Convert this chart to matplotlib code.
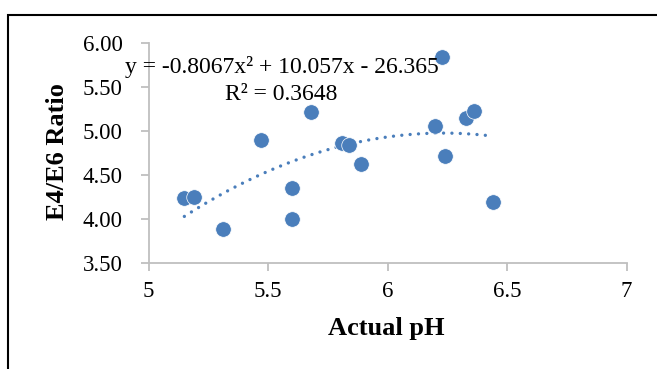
import numpy as np
import matplotlib
matplotlib.use("Agg")
import matplotlib.pyplot as plt
from matplotlib.patches import Rectangle

# Data
actual_ph = [5.15, 5.19, 5.31, 5.47, 5.60, 5.60, 5.68, 5.81, 5.84, 5.89,
             6.20, 6.23, 6.24, 6.33, 6.36, 6.44]
e4e6_ratio = [4.24, 4.25, 3.89, 4.90, 4.36, 4.00, 5.22, 4.87, 4.85, 4.63,
              5.06, 5.84, 4.72, 5.15, 5.23, 4.20]
trend_coeffs = [-0.8067, 10.057, -26.365]
r_squared = 0.3648
x_ticks = [5, 5.5, 6, 6.5, 7]
x_tick_labels = ["5", "5.5", "6", "6.5", "7"]
y_ticks = [3.5, 4.0, 4.5, 5.0, 5.5, 6.0]
y_tick_labels = ["3.50", "4.00", "4.50", "5.00", "5.50", "6.00"]

plt.rcParams['font.family'] = ['Liberation Serif', 'DejaVu Serif']

W, H = 657, 369
fig = plt.figure(figsize=(W / 100, H / 100), dpi=100)
fig.patch.set_facecolor('white')

# Outer frame
fig.patches.append(Rectangle((7.5 / W, -0.05), 1.0, 1 - 14.5 / H + 0.05,
                             transform=fig.transFigure, fill=False,
                             edgecolor='black', linewidth=1.5))

left, right = 148.5 / W, 626.5 / W
bottom, top = 1 - 263.3 / H, 1 - 43.3 / H
ax = fig.add_axes([left, bottom, right - left, top - bottom])

color = '#4a7ebb'
ax.scatter(actual_ph, e4e6_ratio, s=125, color=color, edgecolors='white',
           linewidths=0.5, zorder=3)

xs = np.linspace(min(actual_ph), max(actual_ph), 200)
ys = np.polyval(trend_coeffs, xs)
ax.plot(xs, ys, color=color, linewidth=2.4, linestyle=(0, (0.01, 2.5)),
        dash_capstyle='round', zorder=2)

ax.set_xlim(5, 7)
ax.set_ylim(3.5, 6.0)
ax.set_xticks(x_ticks)
ax.set_xticklabels(x_tick_labels)
ax.set_yticks(y_ticks)
ax.set_yticklabels(y_tick_labels)

for s in ['top', 'right']:
    ax.spines[s].set_visible(False)
for s in ['left', 'bottom']:
    ax.spines[s].set_color('#bfbfbf')
    ax.spines[s].set_linewidth(1.3)
ax.tick_params(axis='both', colors='#bfbfbf', length=5.5, width=1.3,
               labelcolor='black', labelsize=16.5)
ax.tick_params(axis='x', pad=7)
ax.tick_params(axis='y', pad=13)

ax.set_xlabel('Actual pH', fontsize=19, fontweight='bold', va='center')
ax.set_ylabel('E4/E6 Ratio', fontsize=19, fontweight='bold', va='center')
ax.xaxis.set_label_coords((386 - 148.5) / 478, (263.3 - 329) / 220)
ax.yaxis.set_label_coords((58 - 148.5) / 478, (263.3 - 152) / 220)

a, b, c = trend_coeffs
eq = f"y = {a:.4f}x² + {b:.3f}x - {abs(c):.3f}"
fig.text(281.5 / W, 1 - 67 / H, eq, ha='center', va='center', fontsize=17)
fig.text(281.5 / W, 1 - 94 / H, f"R² = {r_squared:.4f}", ha='center',
         va='center', fontsize=17)

fig.savefig('out.png', dpi=100)
